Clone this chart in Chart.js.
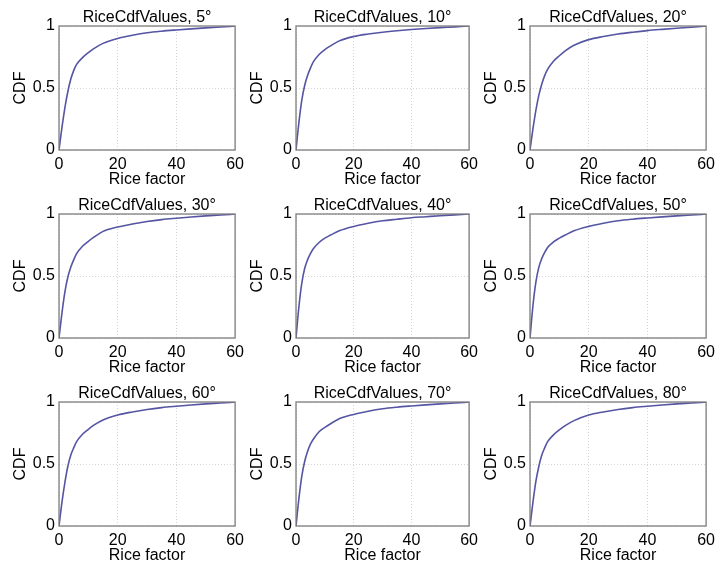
<!DOCTYPE html>
<html>
<head>
<meta charset="utf-8">
<script src="https://cdn.jsdelivr.net/npm/chart.js@4/dist/chart.umd.min.js"></script>
<style>
  body { margin: 0; background: #fff; }
  #wrap { position: relative; width: 716px; height: 567px; overflow: hidden; }
  #wrap canvas { position: absolute; }
</style>
</head>
<body>
<div id="wrap"></div>
<script>
// Rice factor samples (x) shared by every subplot
const riceFactor = [0, 1, 2, 3, 4, 5, 6, 8, 10, 12, 15, 20, 25, 30, 35, 40, 45, 50, 55, 60];

// elevation angles, one per subplot
const angles = [5, 10, 20, 30, 40, 50, 60, 70, 80];

// CDF values
const cdf5  = [0, 0.18, 0.34, 0.47, 0.57, 0.64, 0.69, 0.745, 0.785, 0.82, 0.86, 0.90, 0.925, 0.945, 0.958, 0.968, 0.977, 0.985, 0.992, 1];
const cdf10 = [0, 0.22, 0.40, 0.52, 0.60, 0.66, 0.71, 0.77, 0.81, 0.84, 0.88, 0.915, 0.935, 0.95, 0.962, 0.972, 0.98, 0.987, 0.993, 1];
const cdf20 = [0, 0.17, 0.32, 0.44, 0.53, 0.60, 0.65, 0.715, 0.76, 0.80, 0.845, 0.89, 0.915, 0.935, 0.95, 0.963, 0.973, 0.982, 0.99, 1];
const cdf30 = [0, 0.20, 0.37, 0.49, 0.57, 0.63, 0.68, 0.74, 0.78, 0.815, 0.86, 0.895, 0.92, 0.94, 0.955, 0.966, 0.976, 0.985, 0.992, 1];
const cdf40 = [0, 0.25, 0.44, 0.56, 0.63, 0.68, 0.72, 0.77, 0.805, 0.83, 0.865, 0.90, 0.925, 0.945, 0.958, 0.97, 0.978, 0.986, 0.993, 1];
const cdf50 = [0, 0.26, 0.45, 0.57, 0.64, 0.69, 0.73, 0.775, 0.805, 0.83, 0.865, 0.90, 0.925, 0.945, 0.958, 0.968, 0.977, 0.985, 0.992, 1];
const cdf60 = [0, 0.19, 0.35, 0.48, 0.57, 0.63, 0.68, 0.74, 0.78, 0.815, 0.855, 0.895, 0.92, 0.94, 0.955, 0.966, 0.976, 0.985, 0.992, 1];
const cdf70 = [0, 0.22, 0.40, 0.52, 0.60, 0.66, 0.70, 0.76, 0.795, 0.825, 0.865, 0.90, 0.925, 0.945, 0.958, 0.968, 0.977, 0.985, 0.992, 1];
const cdf80 = [0, 0.19, 0.36, 0.48, 0.57, 0.63, 0.68, 0.735, 0.775, 0.81, 0.85, 0.895, 0.92, 0.94, 0.955, 0.966, 0.976, 0.985, 0.992, 1];
const allCdf = [cdf5, cdf10, cdf20, cdf30, cdf40, cdf50, cdf60, cdf70, cdf80];

const xTicks = [0, 20, 40, 60];
const yTicks = [0, 0.5, 1];

// subplot placement (plot area in page pixels)
const colLeft = [59, 296, 530];
const colWidth = [178, 175, 178];
const rowTop = [26, 214, 402];
const plotH = 124;
const yAxisW = 50, xAxisH = 40, titleH = 26, padRight = 12;

Chart.defaults.font.family = "'Liberation Sans', Arial, sans-serif";
Chart.defaults.font.size = 16;
Chart.defaults.color = '#000';

// draws the box round the plot area, like the matlab axes
const boxPlugin = {
    id: 'box',
    afterDatasetsDraw(chart) {
        const a = chart.chartArea;
        const ctx = chart.ctx;
        ctx.save();
        ctx.strokeStyle = '#7d7d7d';
        ctx.lineWidth = 1.3;
        ctx.strokeRect(a.left, a.top, a.right - a.left, a.bottom - a.top);
        ctx.restore();
    }
};

const wrap = document.getElementById('wrap');

angles.forEach((ang, i) => {
    const r = Math.floor(i / 3), c = i % 3;
    const canvas = document.createElement('canvas');
    const w = yAxisW + colWidth[c] + padRight;
    const h = titleH + plotH + xAxisH;
    canvas.width = w;
    canvas.height = h;
    canvas.style.left = (colLeft[c] - yAxisW) + 'px';
    canvas.style.top = (rowTop[r] - titleH) + 'px';
    wrap.appendChild(canvas);

    const points = riceFactor.map((x, k) => ({ x: x, y: allCdf[i][k] }));

    new Chart(canvas.getContext('2d'), {
        type: 'line',
        data: {
            datasets: [{
                data: points,
                borderColor: '#5555a3',
                borderWidth: 1.6,
                pointRadius: 0,
                cubicInterpolationMode: 'monotone',
                fill: false
            }]
        },
        options: {
            responsive: false,
            animation: false,
            layout: { padding: { left: 0, right: padRight, top: 0, bottom: 0 } },
            plugins: {
                legend: { display: false },
                tooltip: { enabled: false },
                title: {
                    display: true,
                    fullSize: false,  // keeps the title centred over the plot, not the canvas
                    align: 'center',
                    text: 'RiceCdfValues, ' + ang + '°',
                    font: { size: 16, weight: 'normal', lineHeight: 1 },
                    padding: { top: 9.5, bottom: 0.5 }
                }
            },
            scales: {
                x: {
                    type: 'linear',
                    min: 0,
                    max: 60,
                    afterBuildTicks: (s) => { s.ticks = xTicks.map(v => ({ value: v })); },
                    afterFit: (s) => { s.height = xAxisH; },
                    ticks: { padding: 5, maxRotation: 0, font: { size: 16 } },
                    grid: { color: '#d4d4d4', drawTicks: false },
                    border: { display: false, dash: [1, 2] },
                    title: { display: true, text: 'Rice factor', font: { size: 16 }, padding: { top: 0, bottom: 1 } }
                },
                y: {
                    min: 0,
                    max: 1,
                    afterBuildTicks: (s) => { s.ticks = yTicks.map(v => ({ value: v })); },
                    afterFit: (s) => { s.width = yAxisW; },
                    ticks: { padding: 4, font: { size: 16 }, callback: (v) => String(v) },
                    grid: { color: '#d4d4d4', drawTicks: false },
                    border: { display: false, dash: [1, 2] },
                    title: { display: true, text: 'CDF', font: { size: 16 }, padding: { top: 2, bottom: 0 } }
                }
            }
        },
        plugins: [boxPlugin]
    });
});
</script>
</body>
</html>
